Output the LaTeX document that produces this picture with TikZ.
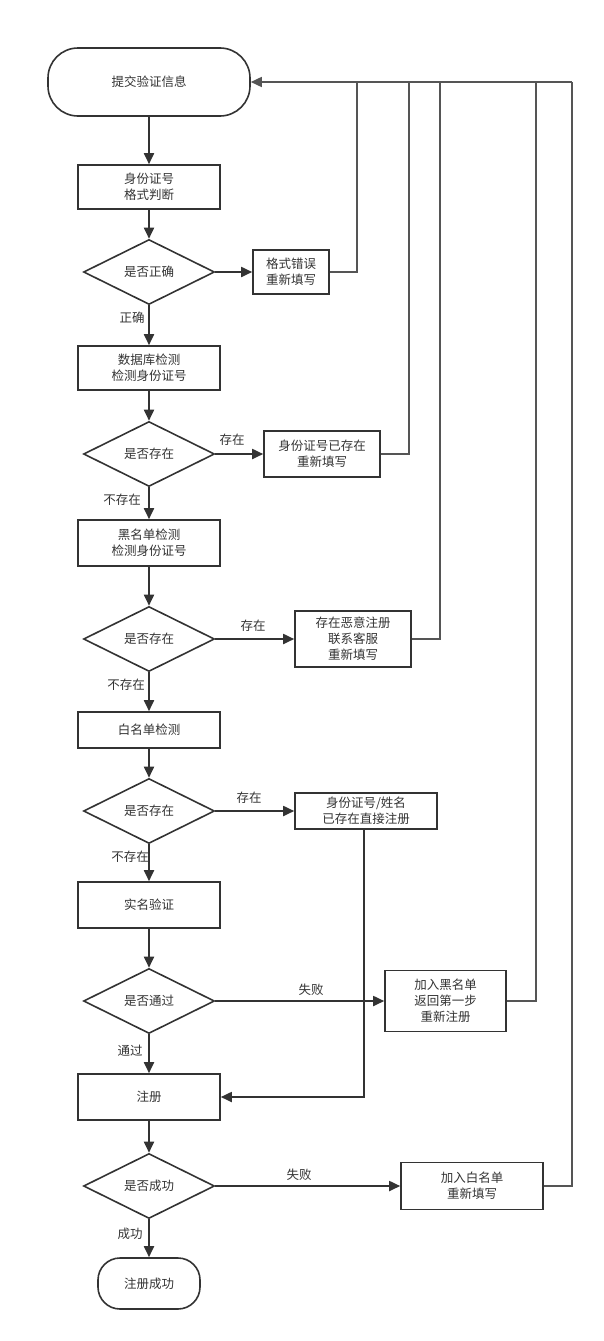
\documentclass[tikz,border=0pt]{standalone}
\usepackage{fontspec}
\setmainfont{Noto Sans CJK SC}
\usetikzlibrary{shapes.geometric,arrows.meta}
\definecolor{ln}{HTML}{333333}
\definecolor{fbc}{HTML}{555555}
\begin{document}
\begin{tikzpicture}[x=1pt,y=-1pt,
  every node/.style={text=ln,font=\fontsize{12.5}{16}\selectfont,align=center},
  proc/.style={draw=ln,line width=1.6pt,rectangle,minimum width=142pt,minimum height=44pt,inner sep=0pt},
  dec/.style={draw=ln,line width=1.6pt,diamond,aspect=2,minimum width=131pt,minimum height=65pt,inner sep=0pt},
  term/.style={draw=ln,line width=1.6pt,rectangle,inner sep=0pt},
  flow/.style={draw=ln,line width=1.8pt,-{Triangle[length=11pt,width=10pt]}},
  fb/.style={draw=fbc,line width=1.6pt},
  lbl/.style={inner sep=0pt}
]
\useasboundingbox (0,0) rectangle (604,1341);

% main column
\node[term,rounded corners=30pt,minimum width=202pt,minimum height=68pt] (start) at (149,82) {提交验证信息};
\node[proc] (b1) at (149,187) {身份证号\\格式判断};
\node[dec] (d1) at (149,272) {是否正确};
\node[proc] (b2) at (149,368) {数据库检测\\检测身份证号};
\node[dec] (d2) at (149,454) {是否存在};
\node[proc,minimum height=46pt] (b3) at (149,543) {黑名单检测\\检测身份证号};
\node[dec] (d3) at (149,639) {是否存在};
\node[proc,minimum height=36pt] (b4) at (149,730) {白名单检测};
\node[dec] (d4) at (149,811) {是否存在};
\node[proc,minimum height=46pt] (b5) at (149,905) {实名验证};
\node[dec] (d5) at (149,1001) {是否通过};
\node[proc,minimum height=46pt] (reg) at (149,1097) {注册};
\node[dec] (d6) at (149,1186) {是否成功};
\node[term,rounded corners=22pt,minimum width=102pt,minimum height=51pt] (end) at (149,1283.5) {注册成功};

% side boxes
\node[proc,minimum width=76pt,minimum height=44pt] (e1) at (291,272) {格式错误\\重新填写};
\node[proc,minimum width=116pt,minimum height=46pt] (e2) at (322,454) {身份证号已存在\\重新填写};
\node[proc,minimum width=116pt,minimum height=56pt] (e3) at (353,639) {存在恶意注册\\联系客服\\重新填写};
\node[proc,minimum width=142pt,minimum height=36pt] (ok4) at (366,811) {身份证号/姓名\\已存在直接注册};
\node[proc,minimum width=121pt,minimum height=61pt] (e5) at (445.5,1001) {加入黑名单\\返回第一步\\重新注册};
\node[proc,minimum width=142pt,minimum height=47pt] (e6) at (472,1186) {加入白名单\\重新填写};

% labels
\node[lbl] (l1) at (132,318) {正确};
\node[lbl] (l2) at (232,440) {存在};
\node[lbl] (l3) at (122,500) {不存在};
\node[lbl] (l4) at (253,626) {存在};
\node[lbl] (l5) at (126,685) {不存在};
\node[lbl] (l6) at (249,798) {存在};
\node[lbl] (l7) at (130,857) {不存在};
\node[lbl] (l8) at (311,990) {失败};
\node[lbl] (l9) at (130,1051) {通过};
\node[lbl] (l10) at (299,1175) {失败};
\node[lbl] (l11) at (130,1234) {成功};

% main flow
\draw[flow] (start.south) -- (b1.north);
\draw[flow] (b1.south) -- (d1.north);
\draw[flow] (d1.south) -- (b2.north);
\draw[flow] (b2.south) -- (d2.north);
\draw[flow] (d2.south) -- (b3.north);
\draw[flow] (b3.south) -- (d3.north);
\draw[flow] (d3.south) -- (b4.north);
\draw[flow] (b4.south) -- (d4.north);
\draw[flow] (d4.south) -- (b5.north);
\draw[flow] (b5.south) -- (d5.north);
\draw[flow] (d5.south) -- (reg.north);
\draw[flow] (reg.south) -- (d6.north);
\draw[flow] (d6.south) -- (end.north);

% side branches
\draw[flow] (d1.east) -- (d1.east -| e1.west);
\draw[flow] (d2.east) -- (d2.east -| e2.west);
\draw[flow] (d3.east) -- (d3.east -| e3.west);
\draw[flow] (d4.east) -- (d4.east -| ok4.west);
\draw[flow] (d5.east) -- (d5.east -| e5.west);
\draw[flow] (d6.east) -- (d6.east -| e6.west);
\coordinate (okd) at (364,829);
\draw[flow] (okd) |- (reg.east);

% feedback loops
\coordinate (j1) at (357,82);
\coordinate (j2) at (409,82);
\coordinate (j3) at (440,82);
\coordinate (j5) at (536,82);
\coordinate (j6) at (572,82);
\draw[fb] (e1.east) -| (j1);
\draw[fb] (e2.east) -| (j2);
\draw[fb] (e3.east) -| (j3);
\draw[fb] (e5.east) -| (j5);
\draw[fb] (e6.east) -| (j6);
\draw[fb,-{Triangle[length=11pt,width=10pt]}] (j6) -- (start.east);
\end{tikzpicture}
\end{document}
